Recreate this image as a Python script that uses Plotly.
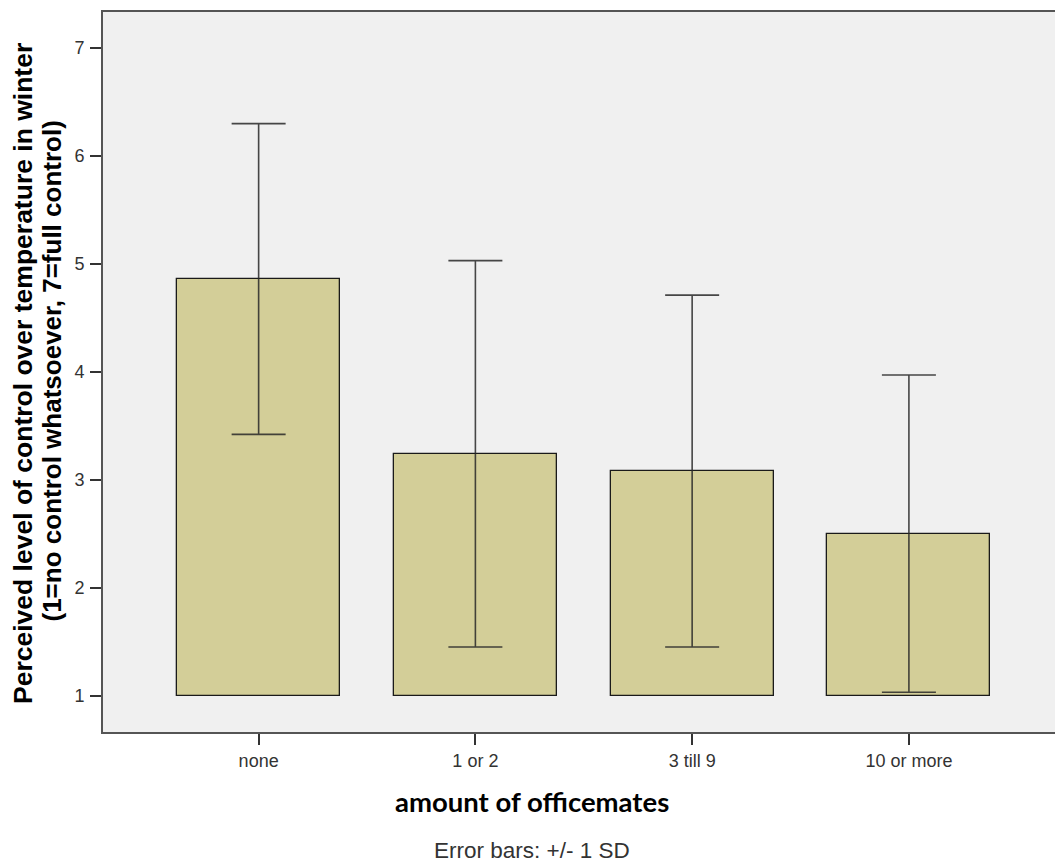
import plotly.graph_objects as go

categories = ["none", "1 or 2", "3 till 9", "10 or more"]
means = [4.86, 3.24, 3.08, 2.50]
sds = [1.44, 1.79, 1.63, 1.47]
y_ticks = [1, 2, 3, 4, 5, 6, 7]
baseline = 1

W, H = 1055, 864
L, T, B, R = 103, 12, 132, 0
pw = W - L - R
ph = H - T - B

def px_x(px):
    return (px - L) / pw

def px_y(py):
    return (H - B - py) / ph

xpos = list(range(len(categories)))

fig = go.Figure()
fig.add_trace(go.Bar(
    x=xpos, y=[m - baseline for m in means], base=baseline,
    width=0.752,
    marker=dict(color="#D3CE98", line=dict(color="#1a1a1a", width=1.3)),
    hoverinfo="skip", showlegend=False,
))
fig.add_trace(go.Scatter(
    x=xpos, y=means, mode="markers",
    marker=dict(size=1, opacity=0),
    error_y=dict(type="data", array=sds, visible=True,
                 color="rgba(40,40,40,0.85)", thickness=1.6, width=27),
    hoverinfo="skip", showlegend=False,
))

fig.update_layout(
    width=W, height=H,
    margin=dict(l=L, r=R, t=T, b=B, pad=0),
    paper_bgcolor="white",
    plot_bgcolor="#F0F0F0",
    bargap=0,
    xaxis=dict(
        range=[-0.718, 3.674],
        tickvals=xpos, ticktext=categories,
        ticks="outside", ticklen=11, tickwidth=1.5, tickcolor="#333333",
        showline=True, linecolor="#555555", linewidth=2, mirror=True,
        showgrid=False, zeroline=False,
        tickfont=dict(family="Liberation Sans, Arial, sans-serif", size=18, color="#333333"),
    ),
    yaxis=dict(
        range=[0.662, 7.334],
        tickvals=y_ticks, ticktext=[str(v) for v in y_ticks],
        ticks="outside", ticklen=11, tickwidth=1.5, tickcolor="#333333",
        showline=True, linecolor="#555555", linewidth=2, mirror=False,
        showgrid=False, zeroline=False,
        ticklabelstandoff=2,
        tickfont=dict(family="Liberation Sans, Arial, sans-serif", size=18, color="#333333"),
    ),
    annotations=[
        dict(text="Perceived level of control over temperature in winter",
             xref="paper", yref="paper", x=px_x(23), y=px_y(374),
             xanchor="center", yanchor="middle", textangle=-90, showarrow=False,
             font=dict(family="Liberation Sans, Arial, sans-serif", size=26.5, color="black", weight="bold")),
        dict(text="(1=no control whatsoever, 7=full control)",
             xref="paper", yref="paper", x=px_x(51), y=px_y(371.5),
             xanchor="center", yanchor="middle", textangle=-90, showarrow=False,
             font=dict(family="Liberation Sans, Arial, sans-serif", size=26, color="black", weight="bold")),
        dict(text="amount of officemates",
             xref="paper", yref="paper", x=px_x(532), y=px_y(801.7),
             xanchor="center", yanchor="middle", showarrow=False,
             font=dict(family="Lato, Carlito, sans-serif", size=27.5, color="black", weight="bold")),
        dict(text="Error bars: +/- 1 SD",
             xref="paper", yref="paper", x=px_x(532), y=px_y(850),
             xanchor="center", yanchor="middle", showarrow=False,
             font=dict(family="Liberation Sans, Arial, sans-serif", size=22.5, color="#333333")),
    ],
)

fig.write_html(
    "out.html",
    config={"displayModeBar": False},
    post_script="document.body.style.margin='0';document.body.style.padding='0';document.body.style.overflow='hidden';",
)
